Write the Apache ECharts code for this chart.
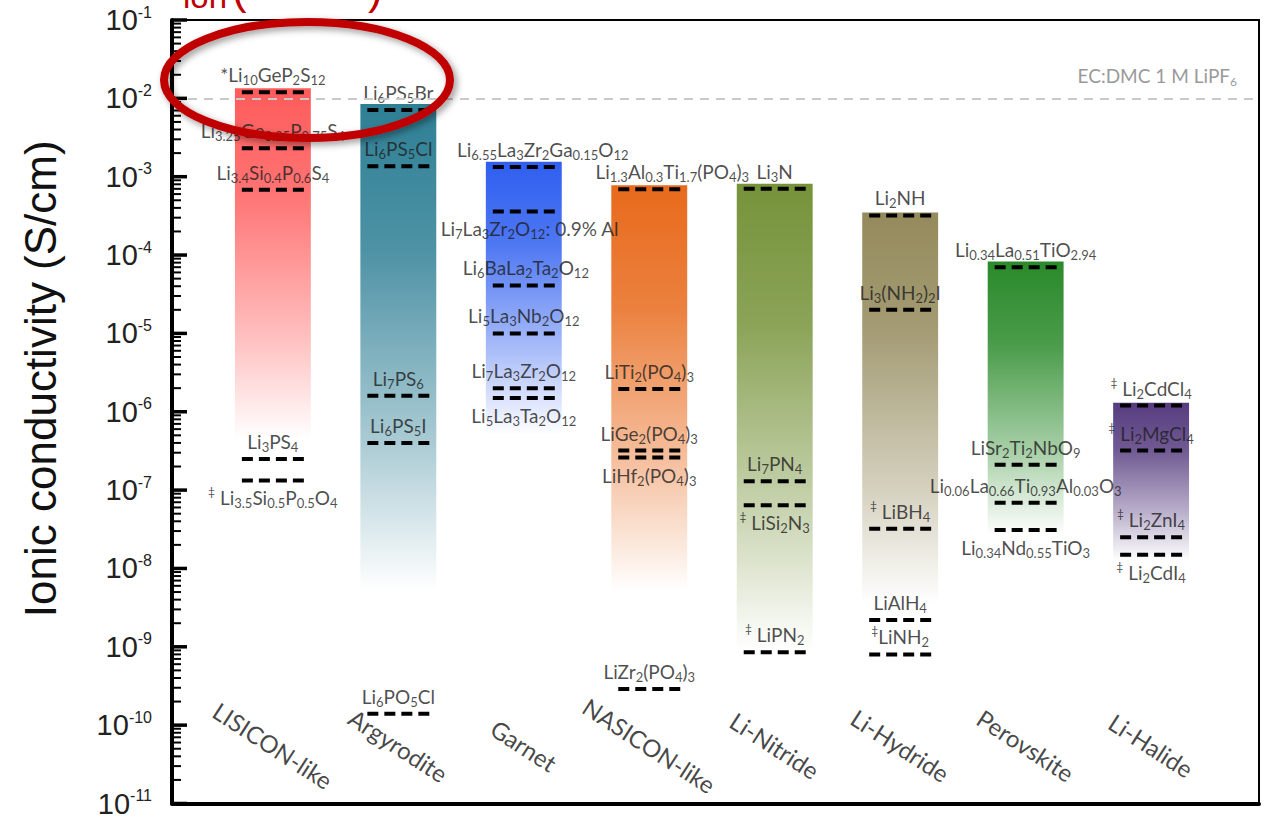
<!DOCTYPE html>
<html>
<head>
<meta charset="utf-8">
<script src="https://cdn.jsdelivr.net/npm/echarts@6/dist/echarts.min.js"></script>
<style>html,body{margin:0;padding:0;background:#fff;}#c{width:1264px;height:818px;}</style>
</head>
<body>
<div id="c"></div>
<script>
// ---------------- DATA ----------------
const categories = ['LISICON-like','Argyrodite','Garnet','NASICON-like','Li-Nitride','Li-Hydride','Perovskite','Li-Halide'];
// top of each family band (S/cm) and the level where the band has faded out
const bandTop  = [1.35e-2, 8.5e-3, 1.55e-3, 7.8e-4, 8.1e-4, 3.5e-4, 8.3e-5, 1.3e-6];
const bandFade = [4.4e-7, 5.2e-9, 5.0e-7, 5.0e-9, 9.0e-10, 3.4e-9, 2.6e-8, 1.25e-8];
// materials: family index, conductivity, formula (_{..} subscript, ^{..} superscript)
const matFamily = [0,0,0,0,0, 1,1,1,1,1, 2,2,2,2,2,2, 3,3,3,3,3, 4,4,4,4, 5,5,5,5,5, 6,6,6,6, 7,7,7,7];
const matValue  = [1.2e-2, 2.3e-3, 6.8e-4, 2.5e-7, 1.33e-7,
                   7.1e-3, 1.36e-3, 1.6e-6, 4.0e-7, 1.4e-10,
                   1.33e-3, 3.6e-4, 4.1e-5, 1.0e-5, 2.0e-6, 1.5e-6,
                   6.9e-4, 1.95e-6, 3.2e-7, 2.6e-7, 2.9e-10,
                   7.0e-4, 1.3e-7, 6.4e-8, 8.5e-10,
                   3.2e-4, 2.0e-5, 3.2e-8, 2.2e-9, 8.0e-10,
                   7.0e-5, 2.1e-7, 6.9e-8, 3.1e-8,
                   1.2e-6, 3.2e-7, 2.5e-8, 1.5e-8];
const matFormula = ['*Li_{10}GeP_{2}S_{12}', 'Li_{3.25}Ge_{0.25}P_{0.75}S_{4}', 'Li_{3.4}Si_{0.4}P_{0.6}S_{4}', 'Li_{3}PS_{4}', '^{‡} Li_{3.5}Si_{0.5}P_{0.5}O_{4}',
                   'Li_{6}PS_{5}Br', 'Li_{6}PS_{5}Cl', 'Li_{7}PS_{6}', 'Li_{6}PS_{5}I', 'Li_{6}PO_{5}Cl',
                   'Li_{6.55}La_{3}Zr_{2}Ga_{0.15}O_{12}', 'Li_{7}La_{3}Zr_{2}O_{12}: 0.9% Al', 'Li_{6}BaLa_{2}Ta_{2}O_{12}', 'Li_{5}La_{3}Nb_{2}O_{12}', 'Li_{7}La_{3}Zr_{2}O_{12}', 'Li_{5}La_{3}Ta_{2}O_{12}',
                   'Li_{1.3}Al_{0.3}Ti_{1.7}(PO_{4})_{3}', 'LiTi_{2}(PO_{4})_{3}', 'LiGe_{2}(PO_{4})_{3}', 'LiHf_{2}(PO_{4})_{3}', 'LiZr_{2}(PO_{4})_{3}',
                   'Li_{3}N', 'Li_{7}PN_{4}', '^{‡} LiSi_{2}N_{3}', '^{‡} LiPN_{2}',
                   'Li_{2}NH', 'Li_{3}(NH_{2})_{2}I', '^{‡} LiBH_{4}', 'LiAlH_{4}', '^{‡}LiNH_{2}',
                   'Li_{0.34}La_{0.51}TiO_{2.94}', 'LiSr_{2}Ti_{2}NbO_{9}', 'Li_{0.06}La_{0.66}Ti_{0.93}Al_{0.03}O_{3}', 'Li_{0.34}Nd_{0.55}TiO_{3}',
                   '^{‡} Li_{2}CdCl_{4}', '^{‡} Li_{2}MgCl_{4}', '^{‡} Li_{2}ZnI_{4}', '^{‡} Li_{2}CdI_{4}'];
const electrolyteRef = 1.17e-2;           // EC:DMC 1 M LiPF6
const yTickExponents = [-11,-10,-9,-8,-7,-6,-5,-4,-3,-2,-1];

// ---------------- LAYOUT / STYLE (not data) ----------------
const labelBelow = {4:1, 11:1, 15:1, 19:1, 23:1, 33:1, 37:1};
const labelShift = {10:19, 11:6, 12:2, 16:23};
const bandColors = ['255,91,91','46,127,149','47,95,240','232,106,28','118,147,58','148,138,92','42,138,42','87,61,128'];
const catLabelValue = 5.5e-11;

function toRich(str){
  let out='', buf='', i=0;
  const flush=()=>{ if(buf){ out+='{n|'+buf+'}'; buf=''; } };
  while(i<str.length){
    const c=str[i];
    if((c==='_'||c==='^') && str[i+1]==='{'){
      flush();
      const j=str.indexOf('}', i);
      out+='{'+(c==='_'?'s':'p')+'|'+str.slice(i+2,j)+'}';
      i=j+1;
    } else { buf+=c; i++; }
  }
  flush();
  return out;
}

const FONT = 'Lato';
const TXT = '#1e1e1e';
const matRich = {
  n:{fontSize:19, lineHeight:24, color:TXT, fontFamily:FONT},
  s:{fontSize:13, lineHeight:10, color:TXT, fontFamily:FONT, verticalAlign:'bottom'},
  p:{fontSize:12, lineHeight:10, color:TXT, fontFamily:FONT, verticalAlign:'top'}
};

const chart = echarts.init(document.getElementById('c'), null, {renderer:'svg'});

const xMin = -0.804, xMax = 7.86;
const halfBand = 0.3025, halfDash = 0.247;

// tick positions on the log axis: [xMin, value, isMajor]
const tickValues = [];
yTickExponents.forEach(e=>{
  tickValues.push([xMin, Math.pow(10,e), 1]);
  if(e<-1) for(let k=2;k<=9;k++) tickValues.push([xMin, k*Math.pow(10,e), 0]);
});

const option = {
  animation:false,
  backgroundColor:'#fff',
  grid:{left:172, right:5, top:20, bottom:14, show:true, borderColor:'#000', borderWidth:2},
  xAxis:{type:'value', min:xMin, max:xMax, axisLabel:{show:false}, axisTick:{show:false}, splitLine:{show:false},
         axisLine:{show:true, onZero:false, lineStyle:{color:'#000', width:4}}},
  yAxis:{type:'log', logBase:10, min:1e-11, max:1e-1, interval:1, splitNumber:10,
         splitLine:{show:false},
         axisLine:{show:true, onZero:false, lineStyle:{color:'#000', width:4}},
         axisTick:{show:false},
         axisLabel:{margin:20, showMinLabel:true, showMaxLabel:true,
           formatter:(v)=>'{b|10}{e|'+Math.round(Math.log10(v))+'}',
           rich:{b:{fontSize:29, lineHeight:32, color:'#222', fontFamily:'Liberation Sans'},
                 e:{fontSize:16, lineHeight:8, color:'#222', fontFamily:'Liberation Sans', verticalAlign:'top'}}},
         name:'Ionic conductivity (S/cm)', nameLocation:'middle', nameGap:110,
         nameTextStyle:{fontSize:44, color:'#111', fontFamily:'Liberation Sans', padding:[0,0,0,66]}},
  series:[
    { // log ticks on the y axis (major + minor), drawn inward
      type:'custom', clip:false, z:10,
      data: tickValues,
      encode:{x:0, y:1},
      renderItem:(params, api)=>{
        const a=api.coord([api.value(0), api.value(1)]);
        const major=api.value(2)===1;
        return {type:'line', shape:{x1:a[0], y1:a[1], x2:a[0]+(major?15:9), y2:a[1]},
          style:{stroke:'#000', lineWidth: major?3.5:2}};
      }
    },
    { // gradient bands
      type:'custom', z:1,
      data: categories.map((c,i)=>[i, bandTop[i], bandFade[i]]),
      encode:{x:0, y:[1,2]},
      renderItem:(params, api)=>{
        const x=api.value(0);
        const p1=api.coord([x-halfBand, api.value(1)]);
        const p2=api.coord([x+halfBand, api.value(2)]);
        const rgb=bandColors[params.dataIndex];
        return {type:'rect', shape:{x:p1[0], y:p1[1], width:p2[0]-p1[0], height:p2[1]-p1[1]},
          style:{fill:new echarts.graphic.LinearGradient(0,0,0,1,[
            {offset:0, color:'rgba('+rgb+',1)'},
            {offset:0.3, color:'rgba('+rgb+',0.85)'},
            {offset:0.7, color:'rgba('+rgb+',0.4)'},
            {offset:1, color:'rgba('+rgb+',0)'}])}};
      }
    },
    { // dashed markers
      type:'custom', z:3,
      data: matValue.map((v,i)=>[matFamily[i], v]),
      encode:{x:0, y:1},
      renderItem:(params, api)=>{
        const x=api.value(0), v=api.value(1);
        const a=api.coord([x-halfDash, v]), b=api.coord([x+halfDash, v]);
        return {type:'line', shape:{x1:a[0], y1:a[1], x2:b[0], y2:b[1]},
          style:{stroke:'#000', lineWidth:4, lineDash:[11,6], lineCap:'butt'}};
      }
    },
    { // material labels
      type:'scatter', z:4, symbolSize:1, itemStyle:{color:'rgba(0,0,0,0)'}, silent:true,
      data: matValue.map((v,i)=>({
        value:[matFamily[i], v],
        label:{show:true, position: labelBelow[i]?'bottom':'top', distance:5,
               offset:[labelShift[i]||0, 0],
               formatter: toRich(matFormula[i]), rich: matRich}
      })),
      markLine:{silent:true, symbol:['none','none'],
        lineStyle:{type:[9,7], color:'#c9c9c9', width:2},
        label:{show:true, position:'insideEndTop', distance:[22,11],
          formatter:'{g|EC:DMC 1 M LiPF}{gs|6}',
          rich:{g:{fontSize:19, lineHeight:24, color:'#9a9a9a', fontFamily:FONT},
                gs:{fontSize:12, lineHeight:8, color:'#9a9a9a', fontFamily:FONT, verticalAlign:'bottom'}}},
        data:[{yAxis:electrolyteRef}]}
    },
    { // family names
      type:'scatter', z:4, symbolSize:1, itemStyle:{color:'rgba(0,0,0,0)'}, silent:true,
      data: categories.map((c,i)=>[i, catLabelValue]),
      label:{show:true, position:'inside', rotate:-33, fontSize:24, color:'#161616', fontFamily:FONT,
             formatter:(p)=>categories[p.dataIndex]}
    }
  ],
  graphic:[
    {type:'ellipse', z:100, shape:{cx:307, cy:80, rx:143, ry:58},
     style:{fill:'none', stroke:'#c00000', lineWidth:8, shadowBlur:7, shadowColor:'rgba(0,0,0,0.4)', shadowOffsetX:3, shadowOffsetY:3}},
    {type:'text', z:100, x:183, y:-4, style:{text:'ion', fontSize:33, fill:'#c00000', fontFamily:'Liberation Sans', verticalAlign:'middle'}},
    {type:'text', z:100, x:232, y:-12, style:{text:'(', fontSize:44, fill:'#c00000', fontFamily:'Liberation Sans', verticalAlign:'middle'}},
    {type:'text', z:100, x:368, y:-12, style:{text:')', fontSize:44, fill:'#c00000', fontFamily:'Liberation Sans', verticalAlign:'middle'}}
  ]
};
chart.setOption(option);
</script>
</body>
</html>
